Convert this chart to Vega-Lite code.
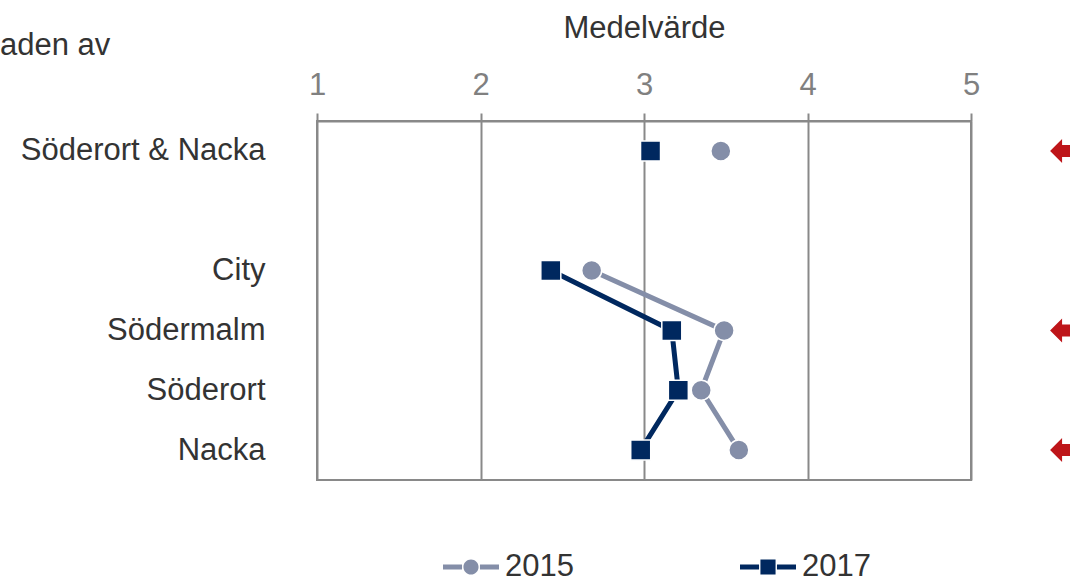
{
  "$schema": "https://vega.github.io/schema/vega-lite/v6.json",
  "width": 654,
  "height": 359,
  "autosize": "none",
  "padding": {"left": 317, "top": 121, "right": 99, "bottom": 103},
  "background": "white",
  "config": {
    "font": "Liberation Sans",
    "view": {"stroke": "#898989", "strokeWidth": 2}
  },
  "title": {
    "text": "aden av",
    "anchor": "start",
    "frame": "group",
    "dx": -317,
    "dy": 54,
    "fontSize": 31,
    "fontWeight": "normal",
    "color": "#333333"
  },
  "datasets": {
    "points": [
      {"area": "Söderort & Nacka", "year": "2015", "value": 3.47, "seg": "a", "rank": 1},
      {"area": "City", "year": "2015", "value": 2.68, "seg": "b", "rank": 2},
      {"area": "Södermalm", "year": "2015", "value": 3.49, "seg": "b", "rank": 3},
      {"area": "Söderort", "year": "2015", "value": 3.35, "seg": "b", "rank": 4},
      {"area": "Nacka", "year": "2015", "value": 3.58, "seg": "b", "rank": 5},
      {"area": "Söderort & Nacka", "year": "2017", "value": 3.04, "seg": "a", "rank": 1},
      {"area": "City", "year": "2017", "value": 2.43, "seg": "b", "rank": 2},
      {"area": "Södermalm", "year": "2017", "value": 3.17, "seg": "b", "rank": 3},
      {"area": "Söderort", "year": "2017", "value": 3.21, "seg": "b", "rank": 4},
      {"area": "Nacka", "year": "2017", "value": 2.98, "seg": "b", "rank": 5}
    ],
    "arrows": [
      {"area": "Söderort & Nacka", "value": 5.606},
      {"area": "Södermalm", "value": 5.606},
      {"area": "Nacka", "value": 5.606}
    ]
  },
  "layer": [
    {
      "data": {"name": "points"},
      "mark": {"type": "line", "strokeWidth": 5},
      "encoding": {
        "x": {
          "field": "value", "type": "quantitative",
          "scale": {"domain": [1, 5], "nice": false, "zero": false},
          "axis": {
            "orient": "top", "title": "Medelvärde", "values": [1, 2, 3, 4, 5], "format": "d",
            "domain": true, "domainColor": "#898989", "domainWidth": 2,
            "ticks": true, "tickColor": "#898989", "tickWidth": 2, "tickSize": 8,
            "grid": true, "gridColor": "#898989", "gridWidth": 2,
            "labelFontSize": 31, "labelColor": "#808080", "labelPadding": 12, "labelFlush": false,
            "titleFontSize": 31, "titleFontWeight": "normal", "titleColor": "#333333", "titlePadding": 25
          }
        },
        "y": {
          "field": "area", "type": "nominal",
          "scale": {"type": "point", "domain": ["Söderort & Nacka", " ", "City", "Södermalm", "Söderort", "Nacka"], "padding": 0.5},
          "axis": {
            "title": null, "domain": false, "ticks": false, "grid": false,
            "labelFontSize": 31, "labelColor": "#333333", "labelPadding": 52, "labelLimit": 0
          }
        },
        "color": {
          "field": "year", "type": "nominal",
          "scale": {"domain": ["2015", "2017"], "range": ["#848EA8", "#00285F"]},
          "legend": {
            "orient": "none", "legendX": 126, "legendY": 418, "direction": "horizontal",
            "title": null, "labelFontSize": 31, "labelColor": "#333333",
            "symbolSize": 3136, "labelOffset": 6, "columnPadding": 166,
            "encode": {
              "symbols": {
                "update": {
                  "shape": {"signal": "datum.value == '2015' ? 'M-1,-0.09L-0.32,-0.09L-0.32,0.09L-1,0.09Z M0.32,-0.09L1,-0.09L1,0.09L0.32,0.09Z M-0.27,0A0.27,0.27,0,1,0,0.27,0A0.27,0.27,0,1,0,-0.27,0Z' : 'M-1,-0.09L-0.32,-0.09L-0.32,0.09L-1,0.09Z M0.32,-0.09L1,-0.09L1,0.09L0.32,0.09Z M-0.27,-0.27L0.27,-0.27L0.27,0.27L-0.27,0.27Z'"},
                  "fill": {"signal": "datum.value == '2015' ? '#848EA8' : '#00285F'"},
                  "stroke": {"value": "transparent"},
                  "strokeWidth": {"value": 0},
                  "opacity": {"value": 1},
                  "size": {"value": 3136}
                }
              }
            }
          }
        },
        "detail": {"field": "seg"},
        "order": {"field": "rank", "type": "quantitative"}
      }
    },
    {
      "data": {"name": "points"},
      "transform": [{"filter": "datum.year == '2015'"}],
      "mark": {"type": "point", "shape": "circle", "filled": true, "size": 400, "stroke": "white", "strokeWidth": 1.5, "opacity": 1},
      "encoding": {
        "x": {"field": "value", "type": "quantitative"},
        "y": {"field": "area", "type": "nominal"},
        "color": {"field": "year", "type": "nominal"}
      }
    },
    {
      "data": {"name": "points"},
      "transform": [{"filter": "datum.year == '2017'"}],
      "mark": {"type": "point", "shape": "square", "filled": true, "size": 400, "stroke": "white", "strokeWidth": 1.5, "opacity": 1},
      "encoding": {
        "x": {"field": "value", "type": "quantitative"},
        "y": {"field": "area", "type": "nominal"},
        "color": {"field": "year", "type": "nominal"}
      }
    },
    {
      "data": {"name": "arrows"},
      "mark": {
        "type": "point", "filled": true, "size": 1600, "color": "#BE1519", "opacity": 1, "clip": false,
        "shape": "M-1,0L-0.4,-0.6L-0.4,-0.3L1.5,-0.3L1.5,0.3L-0.4,0.3L-0.4,0.6Z"
      },
      "encoding": {
        "x": {"field": "value", "type": "quantitative"},
        "y": {"field": "area", "type": "nominal"}
      }
    }
  ]
}
